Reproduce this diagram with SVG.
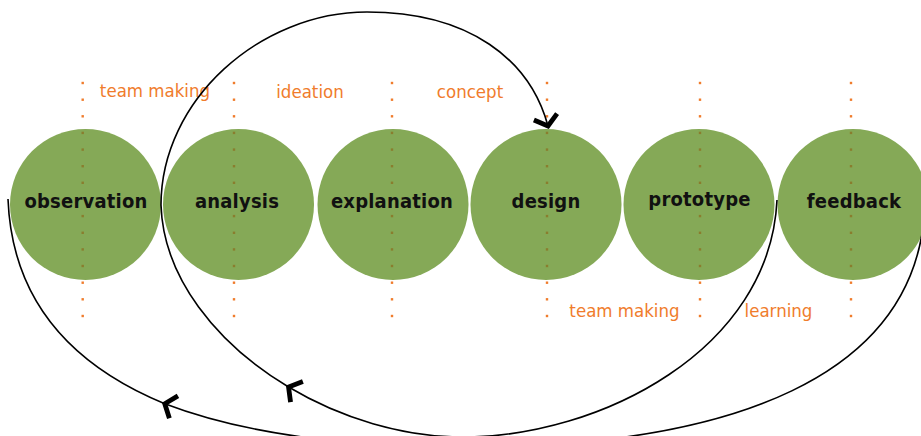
<svg xmlns="http://www.w3.org/2000/svg" width="921" height="436" viewBox="0 0 921 436">
<defs>
<style>
.node{fill:#85a957}
.lbl{font-family:"DejaVu Sans Condensed","DejaVu Sans",sans-serif;font-weight:bold;font-size:20px;letter-spacing:0.2px;fill:#111;text-anchor:middle}
.ann{font-family:"DejaVu Sans Condensed","DejaVu Sans",sans-serif;font-size:18.5px;fill:#f07c2c;text-anchor:middle}
.edge{fill:none;stroke:#000;stroke-width:1.6}
.dout{fill:#f07c2c}
.din{fill:#8a7d2e}
</style>
<marker id="chev" markerUnits="userSpaceOnUse" viewBox="-18 -18 36 36" refX="0" refY="0" markerWidth="36" markerHeight="36" orient="auto">
<path d="M-9.5,-12 L0,0 L-9.5,12" fill="none" stroke="#000" stroke-width="4.8" stroke-linejoin="miter"/>
</marker>
<g id="dotcol">
<rect x="-1.2" y="81.8" width="2.4" height="2.4" class="dout"/>
<rect x="-1.2" y="98.5" width="2.4" height="2.4" class="dout"/>
<rect x="-1.2" y="115.1" width="2.4" height="2.4" class="dout"/>
<rect x="-1.2" y="131.7" width="2.4" height="2.4" class="din"/>
<rect x="-1.2" y="148.4" width="2.4" height="2.4" class="din"/>
<rect x="-1.2" y="165.0" width="2.4" height="2.4" class="din"/>
<rect x="-1.2" y="181.6" width="2.4" height="2.4" class="din"/>
<rect x="-1.2" y="214.9" width="2.4" height="2.4" class="din"/>
<rect x="-1.2" y="231.6" width="2.4" height="2.4" class="din"/>
<rect x="-1.2" y="248.2" width="2.4" height="2.4" class="din"/>
<rect x="-1.2" y="264.8" width="2.4" height="2.4" class="din"/>
<rect x="-1.2" y="281.5" width="2.4" height="2.4" class="dout"/>
<rect x="-1.2" y="298.1" width="2.4" height="2.4" class="dout"/>
<rect x="-1.2" y="314.8" width="2.4" height="2.4" class="dout"/>
</g>
</defs>
<rect width="921" height="436" fill="#fff"/>

<g id="observation"><circle class="node" cx="85.5" cy="204.5" r="75.5"/></g>
<g id="analysis"><circle class="node" cx="238.5" cy="204.5" r="75.5"/></g>
<g id="explanation"><circle class="node" cx="393" cy="204.5" r="75.5"/></g>
<g id="design"><circle class="node" cx="546" cy="204.5" r="75.5"/></g>
<g id="prototype"><circle class="node" cx="699" cy="204.5" r="75.5"/></g>
<g id="feedback"><circle class="node" cx="853" cy="204.5" r="75.5"/></g>

<g id="dividers">
<use href="#dotcol" x="82.7"/>
<use href="#dotcol" x="234"/>
<use href="#dotcol" x="392"/>
<use href="#dotcol" x="547"/>
<use href="#dotcol" x="700"/>
<use href="#dotcol" x="851"/>
</g>

<g id="node-labels">
<text class="lbl" x="86" y="207.5">observation</text>
<text class="lbl" x="237" y="207.5">analysis</text>
<text class="lbl" x="392" y="207.5">explanation</text>
<text class="lbl" x="546" y="207.5">design</text>
<text class="lbl" x="699.5" y="205.5">prototype</text>
<text class="lbl" x="854" y="207.5">feedback</text>
</g>

<g id="phase-labels">
<text class="ann" x="155" y="97">team making</text>
<text class="ann" x="310" y="98">ideation</text>
<text class="ann" x="470" y="98">concept</text>
<text class="ann" x="624.5" y="317">team making</text>
<text class="ann" x="778.5" y="317">learning</text>
</g>

<g id="connectors">
<path class="edge" marker-end="url(#chev)" d="M925,205 C918,378 730,447 465,447 C345.75,447 242.7,433.5 164.78,403.74"/>
<path class="edge" d="M164.78,403.74 C69.55,364.52 11.85,298.55 8,199"/>
<path class="edge" marker-end="url(#chev)" d="M777,200 C770,350 600,437 463,437 C402.94,437 340.76,418.13 288.55,386.97"/>
<path class="edge" marker-end="url(#chev)" d="M288.55,386.97 C216.44,343.94 163.32,277.5 161,205 C161,100 260,12 367,12 C470,12 530,60 548,126"/>
</g>
</svg>
